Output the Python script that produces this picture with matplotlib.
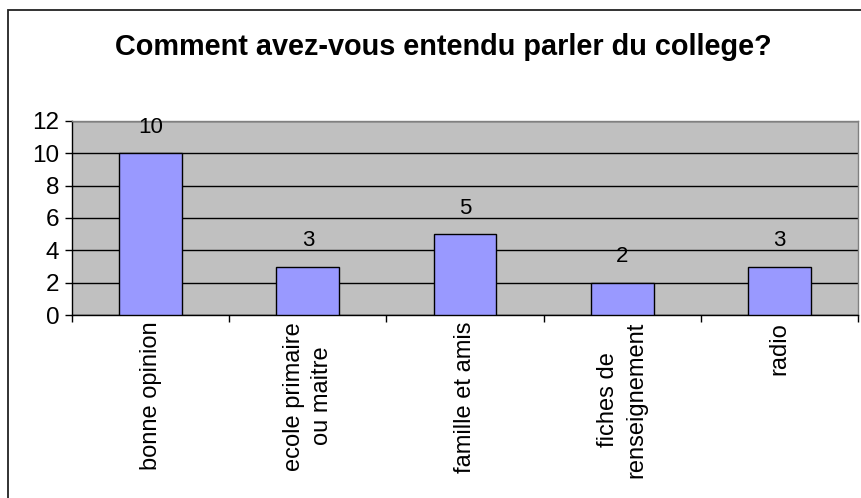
import matplotlib
matplotlib.use("Agg")
import matplotlib.pyplot as plt
from matplotlib.patches import Rectangle
from matplotlib.ticker import FixedLocator, NullFormatter

categories = ["bonne opinion", "ecole primaire\nou maitre", "famille et amis",
              "fiches de\nrenseignement", "radio"]
values = [10, 3, 5, 2, 3]
yticks = [0, 2, 4, 6, 8, 10, 12]
title = "Comment avez-vous entendu parler du college?"

plt.rcParams['font.family'] = ['Liberation Sans', 'DejaVu Sans']

W, H = 861, 498
fig = plt.figure(figsize=(W / 100, H / 100), dpi=100)

# outer chart border (only left/top visible in reference)
fig.patches.append(Rectangle((8 / W, -0.5), 2.0, (H - 10) / H + 0.5,
                             transform=fig.transFigure, fill=False,
                             edgecolor='#222222', linewidth=1.3))

ax = fig.add_axes([72 / W, 1 - 315 / H, (858 - 72) / W, (315 - 121) / H])
ax.set_facecolor('#C0C0C0')

x = list(range(len(categories)))
bars = ax.bar(x, values, width=0.4, color='#9999FF', edgecolor='black',
              linewidth=1.0, zorder=3)
for xi, v in zip(x, values):
    ax.annotate(str(v), (xi, v), xytext=(0, 11), textcoords='offset points',
                ha='center', va='bottom', fontsize=16, zorder=4)

ax.set_xlim(-0.5, len(categories) - 0.5)
ax.set_ylim(0, 12)
ax.set_yticks(yticks)
ax.set_yticklabels([str(t) for t in yticks], fontsize=17.5)
ax.yaxis.grid(True, color='black', linewidth=1.0, zorder=1)
ax.set_axisbelow(True)

# category boundaries as x ticks
ax.xaxis.set_major_locator(FixedLocator([i - 0.5 for i in range(len(categories) + 1)]))
ax.xaxis.set_major_formatter(NullFormatter())
ax.tick_params(axis='x', direction='out', length=5, width=1, colors='black')
ax.tick_params(axis='y', direction='out', length=5, width=1, colors='black', pad=4)

for xi, lab in zip(x, categories):
    ax.text(xi, -0.035, lab, transform=ax.get_xaxis_transform(), rotation=90,
            ha='center', va='top', multialignment='center', fontsize=17,
            linespacing=1.35)

for s in ['top', 'right']:
    ax.spines[s].set_color('#808080')
    ax.spines[s].set_linewidth(1.0)
for s in ['left', 'bottom']:
    ax.spines[s].set_color('black')
    ax.spines[s].set_linewidth(1.0)

fig.text(443 / W, 1 - 47 / H, title, ha='center', va='center',
         fontsize=20.8, fontweight='bold')

fig.savefig('out.png', dpi=100)
